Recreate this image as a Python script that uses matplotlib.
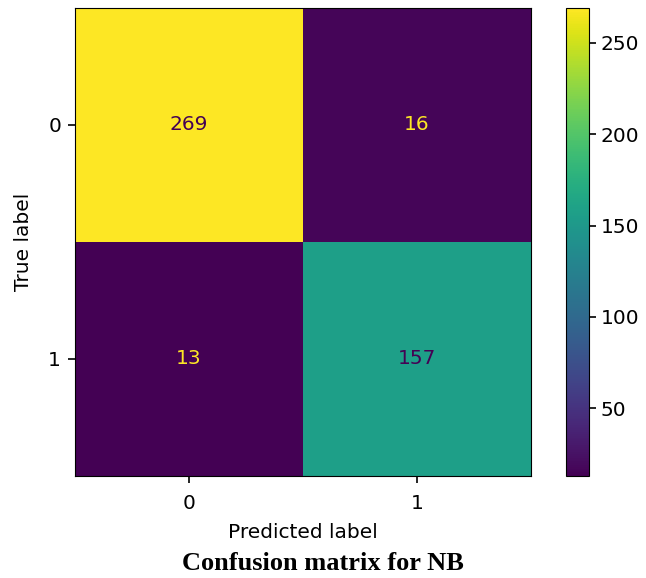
import numpy as np
import matplotlib
matplotlib.use("Agg")
import matplotlib.pyplot as plt

# confusion matrix values (rows = true, cols = predicted)
labels = ["0", "1"]
cm = np.array([[269, 16],
               [13, 157]])
cbar_ticks = [50, 100, 150, 200, 250]

fig = plt.figure(figsize=(6.46, 5.78), dpi=100)
W, H = 646, 578
ax = fig.add_axes([75 / W, 1 - 476 / H, 456 / W, 468 / H])
cax = fig.add_axes([566 / W, 1 - 476 / H, 23 / W, 468 / H])

cmap = plt.get_cmap("viridis")
im = ax.imshow(cm, cmap=cmap, aspect="auto", interpolation="nearest")

# text colour flips at the midpoint like sklearn's display
thresh = (cm.max() + cm.min()) / 2.0
for i in range(cm.shape[0]):
    for j in range(cm.shape[1]):
        color = cmap(0) if cm[i, j] >= thresh else cmap(1.0)
        ax.text(j, i, str(cm[i, j]), ha="center", va="center",
                color=color, fontsize=14.5)

fs = 14.5
ax.set_xticks(range(len(labels)))
ax.set_yticks(range(len(labels)))
ax.set_xticklabels(labels, fontsize=fs)
ax.set_yticklabels(labels, fontsize=fs)
ax.tick_params(length=5, width=1.2, pad=5)
ax.tick_params(axis="x", pad=8)
ax.set_xlabel("Predicted label", fontsize=fs)
ax.set_ylabel("True label", fontsize=fs)
ax.xaxis.set_label_coords(0.5, (476 - 523) / 468)
ax.yaxis.set_label_coords((33 - 75) / 456, 0.5)

cb = fig.colorbar(im, cax=cax)
cb.set_ticks(cbar_ticks)
cb.ax.tick_params(labelsize=fs, length=5, width=1.2)

fig.text(0.5, 1 - 563 / H, "Confusion matrix for NB", ha="center", va="center",
         fontsize=19, fontweight="bold", family="Liberation Serif")

fig.savefig("out.png", dpi=100)
